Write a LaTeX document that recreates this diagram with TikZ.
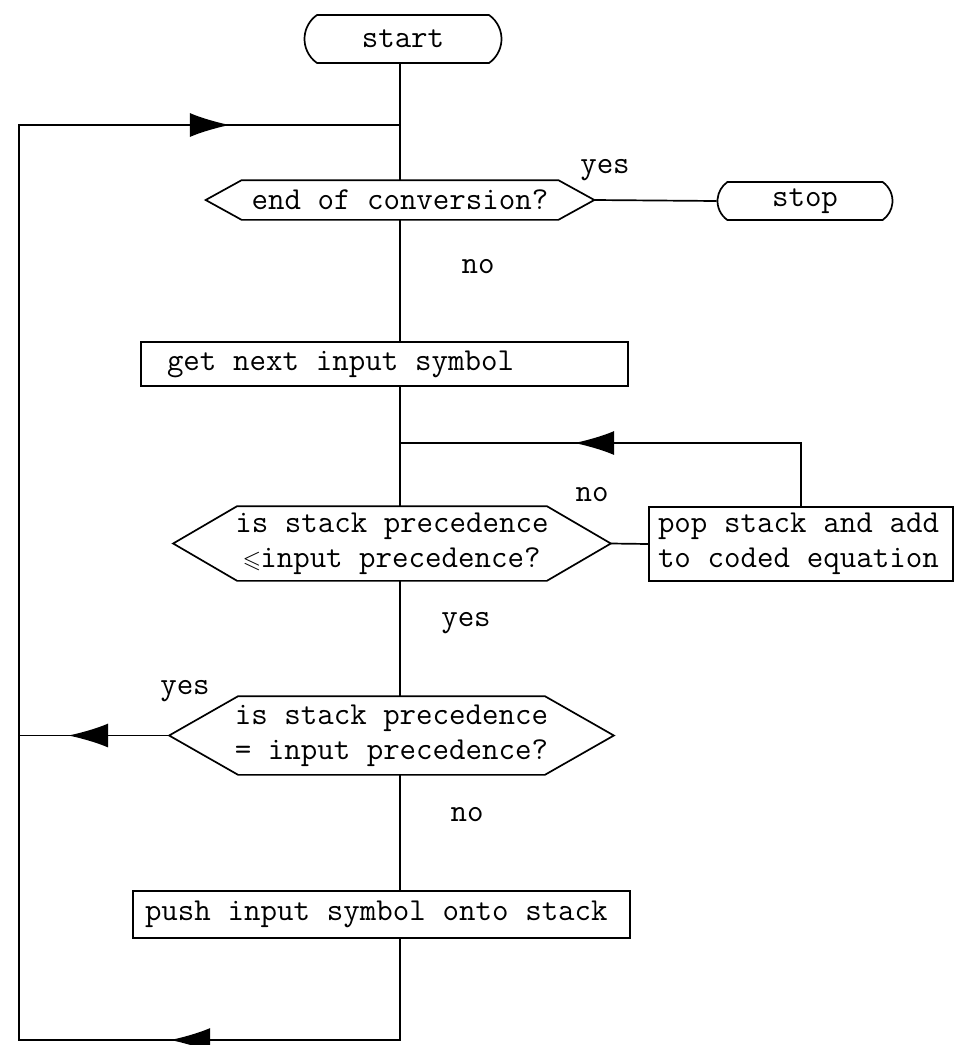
\documentclass[tikz,border=0pt]{standalone}
\usepackage{fontspec}
\setmonofont{Latin Modern Mono}[WordSpace={1,0,0}]
\usepackage{amssymb}
\usetikzlibrary{arrows.meta,shapes.misc,decorations.markings}
\newcommand{\myhex}[2]{\draw (#1.west) -- ([xshift=#2]#1.north west) -- ([xshift=-#2]#1.north east) -- (#1.east) -- ([xshift=-#2]#1.south east) -- ([xshift=#2]#1.south west) -- cycle;}
\newcommand{\fixsp}{\spaceskip=0.525em\xspaceskip=0.525em\relax}
\tikzset{
  tipstyle/.tip={Latex[length=40pt,width=24pt]},
  term/.style={draw, rounded rectangle, rounded rectangle arc length=110, inner sep=0pt},
  hexnode/.style={inner sep=0pt, align=center},
  procbox/.style={draw, rectangle, inner ysep=0pt, align=left},
  lbl/.style={inner sep=0pt},
  onearrow/.style={postaction={decorate,decoration={markings,mark=at position #1 with {\arrow{tipstyle}}}}},
}
\begin{document}
\begin{tikzpicture}[x=1pt,y=-1pt,font=\ttfamily\fontsize{32}{35}\selectfont,line width=1.7pt]
\useasboundingbox (0,0) rectangle (955,1045);
\coordinate (sp) at (400,0);
% nodes
\node[term, minimum width=197pt, minimum height=48pt] (start) at (403,39) {start};
\node[hexnode, minimum width=387pt, minimum height=38pt] (d1) at (400,200) {end of conversion?};
\myhex{d1}{36pt}
\node[term, minimum width=175pt, minimum height=38pt] (stop) at (805,201) {stop};
\node[procbox, inner xsep=26pt, text width=435pt, minimum height=44pt] (get) at (384.5,364) {\fixsp get next input symbol};
\node[hexnode, minimum width=436pt, minimum height=73pt] (d2) at (392,543.5) {is stack precedence\\\makebox[0.525em]{\scalebox{0.75}{$\leqslant$}}input precedence?};
\myhex{d2}{64pt}
\node[procbox, inner xsep=9pt, text width=286pt, minimum height=74pt] (pop) at (801,544) {\fixsp pop stack and add\\\fixsp to coded equation};
\node[hexnode, minimum width=443pt, minimum height=77pt] (d3) at (391.5,735.5) {is stack precedence\\= input precedence?};
\myhex{d3}{69pt}
\node[procbox, inner xsep=12pt, text width=473pt, minimum height=47pt] (push) at (381.5,914.5) {\fixsp push input symbol onto stack};
% labels
\node[lbl] (y1) at (605,170) {yes};
\node[lbl] (n1) at (478,267) {no};
\node[lbl] (n2) at (592,495) {no};
\node[lbl] (y2) at (466,623) {yes};
\node[lbl] (y3) at (185,691) {yes};
\node[lbl] (n3) at (467,815) {no};
% coordinates
\coordinate (jt) at (400,125);
\coordinate (tl) at (19,125);
\coordinate (bl) at (19,1040);
\coordinate (br) at (400,1040);
\coordinate (j2) at (400,443);
\coordinate (pr) at (pop.north |- j2);
\coordinate (yl) at (d3.west -| bl);
% connectors
\draw (start.south -| sp) -- (d1.north -| sp);
\draw (d1.south -| sp) -- (get.north -| sp);
\draw (get.south -| sp) -- (d2.north -| sp);
\draw (d2.south -| sp) -- (d3.north -| sp);
\draw (d3.south -| sp) -- (push.north -| sp);
\draw[postaction={decorate,decoration={markings,
   mark=at position 331pt with {\arrow{tipstyle}},
   mark=at position 1608pt with {\arrow{tipstyle}}}}]
   (push.south -| sp) -- (br) -- (bl) -- (tl) -- (jt);
\draw (d1.east) -- (stop.west);
\draw (d2.east) -- (pop.west);
\draw[onearrow=290pt] (pop.north) -- (pr) -- (j2);
\draw[onearrow=101pt] (d3.west) -- (yl);
\end{tikzpicture}
\end{document}
